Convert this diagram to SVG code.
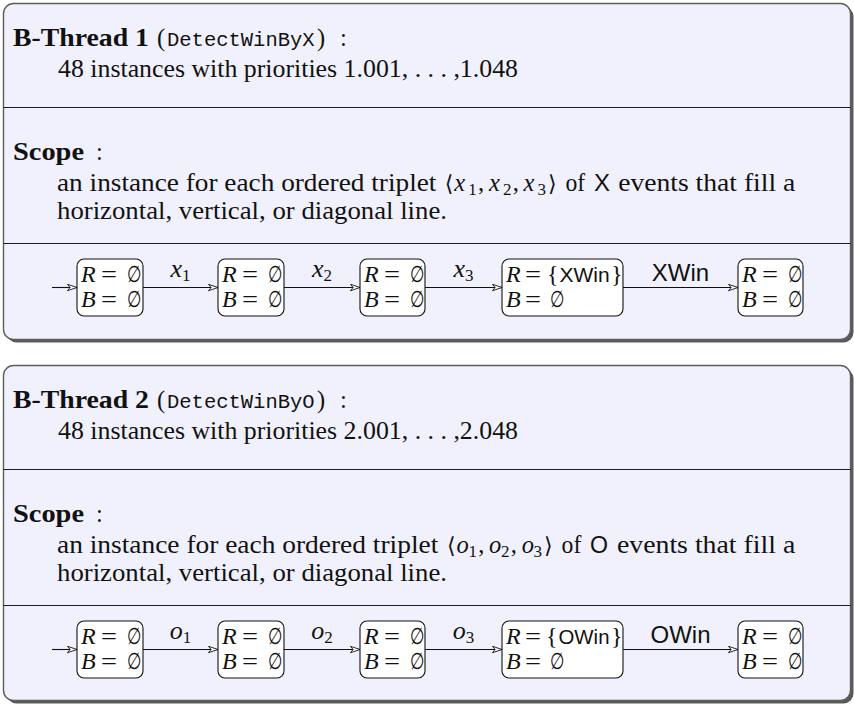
<svg xmlns="http://www.w3.org/2000/svg" width="854" height="705" viewBox="0 0 854 705">
  <defs>
    <marker id="arr" viewBox="0 0 11 8" refX="10.5" refY="4" markerWidth="11" markerHeight="8" markerUnits="userSpaceOnUse" orient="auto">
      <path d="M1,0.8 L10.5,4 L1,7.2 L3.6,4 Z" fill="#fff" stroke="#111" stroke-width="0.9"/>
    </marker>
    <style>
      .shadow { fill:#5a5a5a; }
      .panel { fill:#F1F1FD; stroke:#5e5e5e; stroke-width:1.4; }
      .sep { stroke:#1c1c1c; stroke-width:1.2; }
      .rm { font-family:"Liberation Serif","Times New Roman","DejaVu Serif",serif; font-size:24.5px; fill:#111; }
      .bf { font-weight:bold; }
      .tt { font-family:"Liberation Mono","DejaVu Sans Mono",monospace; font-size:20.5px; fill:#111; }
      .sf { font-family:"Liberation Sans","DejaVu Sans",sans-serif; fill:#111; }
      .it { font-style:italic; }
      .sub { font-size:17px; font-style:normal; }
      .ang { font-family:"DejaVu Sans",sans-serif; font-size:22px; fill:#111; }
      .m { font-family:"Liberation Serif","Times New Roman","DejaVu Serif",serif; font-size:24px; fill:#111; }
      .es { font-family:"DejaVu Sans",sans-serif; font-size:23px; fill:#111; }
      .node rect { fill:#fff; stroke:#111; stroke-width:1.1; }
      .edge { stroke:#111; stroke-width:1.1; fill:none; marker-end:url(#arr); }
      .lbl { text-anchor:middle; }
      .mx { font-size:26px; }
    </style>
  </defs>

  <!-- ============ B-Thread 1 ============ -->
  <g id="bthread1">
    <rect class="shadow" x="6.5" y="6.5" width="847" height="336" rx="10"/>
    <rect class="panel" x="3.5" y="3.5" width="847" height="336" rx="10"/>
    <line class="sep" x1="3.5" y1="107.5" x2="850.5" y2="107.5"/>
    <line class="sep" x1="3.5" y1="243.5" x2="850.5" y2="243.5"/>

    <text class="rm bf" x="13" y="46" textLength="136" lengthAdjust="spacingAndGlyphs">B-Thread 1</text>
    <text class="rm" x="157" y="46">(</text>
    <text class="tt" x="167" y="46">DetectWinByX</text>
    <text class="rm" x="317" y="46">)</text>
    <text class="rm" x="340" y="46">:</text>
    <text class="rm" x="58" y="77" textLength="460" lengthAdjust="spacingAndGlyphs">48 instances with priorities 1.001, . . . ,1.048</text>

    <text class="rm bf" x="13" y="160" textLength="71" lengthAdjust="spacingAndGlyphs">Scope</text>
    <text class="rm" x="96" y="160">:</text>
    <text class="rm" x="57" y="191" textLength="379.4" lengthAdjust="spacingAndGlyphs">an instance for each ordered triplet</text>
    <text class="ang" x="444.8" y="191">⟨</text>
    <text class="rm"><tspan class="it" x="454.3" y="191">x</tspan><tspan class="sub" x="468.3" y="195">1</tspan><tspan x="478" y="191">,</tspan><tspan class="it" x="488.9" y="191">x</tspan><tspan class="sub" x="502.9" y="195">2</tspan><tspan x="512.7" y="191">,</tspan><tspan class="it" x="523.6" y="191">x</tspan><tspan class="sub" x="537.6" y="195">3</tspan></text>
    <text class="ang" x="548" y="191">⟩</text>
    <text class="rm" x="565.4" y="191" textLength="19.7" lengthAdjust="spacingAndGlyphs">of</text>
    <text class="sf" x="594" y="191" font-size="24" textLength="16" lengthAdjust="spacingAndGlyphs">X</text>
    <text class="rm" x="618.2" y="191" textLength="177.1" lengthAdjust="spacingAndGlyphs">events that fill a</text>
    <text class="rm" x="57" y="219" textLength="390" lengthAdjust="spacingAndGlyphs">horizontal, vertical, or diagonal line.</text>
  </g>

  <g id="t1-n1" class="node">
    <rect x="77" y="259" width="66" height="57" rx="7"/>
    <text class="m it" x="81" y="282">R</text>
    <text class="m" x="101" y="282" textLength="16" lengthAdjust="spacingAndGlyphs">=</text>
    <text class="es" transform="translate(127,282) scale(0.72,1)">∅</text>
    <text class="m it" x="81" y="307">B</text>
    <text class="m" x="101" y="307" textLength="16" lengthAdjust="spacingAndGlyphs">=</text>
    <text class="es" transform="translate(127,307) scale(0.72,1)">∅</text>
  </g>
  <g id="t1-n2" class="node">
    <rect x="218" y="259" width="66" height="57" rx="7"/>
    <text class="m it" x="222" y="282">R</text>
    <text class="m" x="242" y="282" textLength="16" lengthAdjust="spacingAndGlyphs">=</text>
    <text class="es" transform="translate(268,282) scale(0.72,1)">∅</text>
    <text class="m it" x="222" y="307">B</text>
    <text class="m" x="242" y="307" textLength="16" lengthAdjust="spacingAndGlyphs">=</text>
    <text class="es" transform="translate(268,307) scale(0.72,1)">∅</text>
  </g>
  <g id="t1-n3" class="node">
    <rect x="360" y="259" width="65" height="57" rx="7"/>
    <text class="m it" x="364" y="282">R</text>
    <text class="m" x="384" y="282" textLength="16" lengthAdjust="spacingAndGlyphs">=</text>
    <text class="es" transform="translate(410,282) scale(0.72,1)">∅</text>
    <text class="m it" x="364" y="307">B</text>
    <text class="m" x="384" y="307" textLength="16" lengthAdjust="spacingAndGlyphs">=</text>
    <text class="es" transform="translate(410,307) scale(0.72,1)">∅</text>
  </g>
  <g id="t1-n4" class="node">
    <rect x="502" y="259" width="121" height="57" rx="7"/>
    <text class="m it" x="506" y="282">R</text>
    <text class="m" x="525" y="282" textLength="16" lengthAdjust="spacingAndGlyphs">=</text>
    <text class="m" x="547" y="282">{</text>
    <text class="sf" x="559.5" y="282" font-size="21">XWin</text>
    <text class="m" x="611" y="282">}</text>
    <text class="m it" x="506" y="307">B</text>
    <text class="m" x="525" y="307" textLength="16" lengthAdjust="spacingAndGlyphs">=</text>
    <text class="es" transform="translate(550,307) scale(0.72,1)">∅</text>
  </g>
  <g id="t1-n5" class="node">
    <rect x="738" y="259" width="65" height="57" rx="7"/>
    <text class="m it" x="742" y="282">R</text>
    <text class="m" x="762" y="282" textLength="16" lengthAdjust="spacingAndGlyphs">=</text>
    <text class="es" transform="translate(788,282) scale(0.72,1)">∅</text>
    <text class="m it" x="742" y="307">B</text>
    <text class="m" x="762" y="307" textLength="16" lengthAdjust="spacingAndGlyphs">=</text>
    <text class="es" transform="translate(788,307) scale(0.72,1)">∅</text>
  </g>

  <g id="t1-edges">
    <line class="edge" x1="52" y1="287.5" x2="77" y2="287.5"/>
    <line class="edge" x1="143" y1="287.5" x2="218" y2="287.5"/>
    <line class="edge" x1="284" y1="287.5" x2="360" y2="287.5"/>
    <line class="edge" x1="425" y1="287.5" x2="502" y2="287.5"/>
    <line class="edge" x1="623" y1="287.5" x2="738" y2="287.5"/>
    <text class="rm lbl" x="180.5" y="277"><tspan class="it mx">x</tspan><tspan class="sub" dy="4">1</tspan></text>
    <text class="rm lbl" x="322" y="277"><tspan class="it mx">x</tspan><tspan class="sub" dy="4">2</tspan></text>
    <text class="rm lbl" x="463.5" y="277"><tspan class="it mx">x</tspan><tspan class="sub" dy="4">3</tspan></text>
    <text class="sf lbl" x="680.5" y="281" font-size="24">XWin</text>
  </g>

  <!-- ============ B-Thread 2 ============ -->
  <g id="bthread2">
    <rect class="shadow" x="6.5" y="368.5" width="847" height="335" rx="10"/>
    <rect class="panel" x="3.5" y="365.5" width="847" height="335" rx="10"/>
    <line class="sep" x1="3.5" y1="469.5" x2="850.5" y2="469.5"/>
    <line class="sep" x1="3.5" y1="605.5" x2="850.5" y2="605.5"/>

    <text class="rm bf" x="13" y="408" textLength="136" lengthAdjust="spacingAndGlyphs">B-Thread 2</text>
    <text class="rm" x="157" y="408">(</text>
    <text class="tt" x="167" y="408">DetectWinByO</text>
    <text class="rm" x="317" y="408">)</text>
    <text class="rm" x="340" y="408">:</text>
    <text class="rm" x="58" y="439" textLength="460" lengthAdjust="spacingAndGlyphs">48 instances with priorities 2.001, . . . ,2.048</text>

    <text class="rm bf" x="13" y="522" textLength="71" lengthAdjust="spacingAndGlyphs">Scope</text>
    <text class="rm" x="96" y="522">:</text>
    <text class="rm" x="57" y="553" textLength="381.3" lengthAdjust="spacingAndGlyphs">an instance for each ordered triplet</text>
    <text class="ang" x="447.1" y="553">⟨</text>
    <text class="rm"><tspan class="it" x="456.6" y="553">o</tspan><tspan class="sub" x="468.5" y="557">1</tspan><tspan x="478.2" y="553">,</tspan><tspan class="it" x="489.1" y="553">o</tspan><tspan class="sub" x="501" y="557">2</tspan><tspan x="510.8" y="553">,</tspan><tspan class="it" x="521.7" y="553">o</tspan><tspan class="sub" x="533.6" y="557">3</tspan></text>
    <text class="ang" x="544" y="553">⟩</text>
    <text class="rm" x="561.6" y="553" textLength="19.7" lengthAdjust="spacingAndGlyphs">of</text>
    <text class="sf" x="590.1" y="553" font-size="24" textLength="18" lengthAdjust="spacingAndGlyphs">O</text>
    <text class="rm" x="616.9" y="553" textLength="178.4" lengthAdjust="spacingAndGlyphs">events that fill a</text>
    <text class="rm" x="57" y="581" textLength="390" lengthAdjust="spacingAndGlyphs">horizontal, vertical, or diagonal line.</text>
  </g>

  <g id="t2-n1" class="node">
    <rect x="77" y="621" width="66" height="57" rx="7"/>
    <text class="m it" x="81" y="644">R</text>
    <text class="m" x="101" y="644" textLength="16" lengthAdjust="spacingAndGlyphs">=</text>
    <text class="es" transform="translate(127,644) scale(0.72,1)">∅</text>
    <text class="m it" x="81" y="669">B</text>
    <text class="m" x="101" y="669" textLength="16" lengthAdjust="spacingAndGlyphs">=</text>
    <text class="es" transform="translate(127,669) scale(0.72,1)">∅</text>
  </g>
  <g id="t2-n2" class="node">
    <rect x="218" y="621" width="66" height="57" rx="7"/>
    <text class="m it" x="222" y="644">R</text>
    <text class="m" x="242" y="644" textLength="16" lengthAdjust="spacingAndGlyphs">=</text>
    <text class="es" transform="translate(268,644) scale(0.72,1)">∅</text>
    <text class="m it" x="222" y="669">B</text>
    <text class="m" x="242" y="669" textLength="16" lengthAdjust="spacingAndGlyphs">=</text>
    <text class="es" transform="translate(268,669) scale(0.72,1)">∅</text>
  </g>
  <g id="t2-n3" class="node">
    <rect x="360" y="621" width="65" height="57" rx="7"/>
    <text class="m it" x="364" y="644">R</text>
    <text class="m" x="384" y="644" textLength="16" lengthAdjust="spacingAndGlyphs">=</text>
    <text class="es" transform="translate(410,644) scale(0.72,1)">∅</text>
    <text class="m it" x="364" y="669">B</text>
    <text class="m" x="384" y="669" textLength="16" lengthAdjust="spacingAndGlyphs">=</text>
    <text class="es" transform="translate(410,669) scale(0.72,1)">∅</text>
  </g>
  <g id="t2-n4" class="node">
    <rect x="502" y="621" width="121" height="57" rx="7"/>
    <text class="m it" x="506" y="644">R</text>
    <text class="m" x="525" y="644" textLength="16" lengthAdjust="spacingAndGlyphs">=</text>
    <text class="m" x="546" y="644">{</text>
    <text class="sf" x="558.5" y="644" font-size="20.4">OWin</text>
    <text class="m" x="611" y="644">}</text>
    <text class="m it" x="506" y="669">B</text>
    <text class="m" x="525" y="669" textLength="16" lengthAdjust="spacingAndGlyphs">=</text>
    <text class="es" transform="translate(550,669) scale(0.72,1)">∅</text>
  </g>
  <g id="t2-n5" class="node">
    <rect x="738" y="621" width="65" height="57" rx="7"/>
    <text class="m it" x="742" y="644">R</text>
    <text class="m" x="762" y="644" textLength="16" lengthAdjust="spacingAndGlyphs">=</text>
    <text class="es" transform="translate(788,644) scale(0.72,1)">∅</text>
    <text class="m it" x="742" y="669">B</text>
    <text class="m" x="762" y="669" textLength="16" lengthAdjust="spacingAndGlyphs">=</text>
    <text class="es" transform="translate(788,669) scale(0.72,1)">∅</text>
  </g>

  <g id="t2-edges">
    <line class="edge" x1="52" y1="649.5" x2="77" y2="649.5"/>
    <line class="edge" x1="143" y1="649.5" x2="218" y2="649.5"/>
    <line class="edge" x1="284" y1="649.5" x2="360" y2="649.5"/>
    <line class="edge" x1="425" y1="649.5" x2="502" y2="649.5"/>
    <line class="edge" x1="623" y1="649.5" x2="738" y2="649.5"/>
    <text class="rm lbl" x="180.5" y="639"><tspan class="it mx">o</tspan><tspan class="sub" dy="4">1</tspan></text>
    <text class="rm lbl" x="322" y="639"><tspan class="it mx">o</tspan><tspan class="sub" dy="4">2</tspan></text>
    <text class="rm lbl" x="463.5" y="639"><tspan class="it mx">o</tspan><tspan class="sub" dy="4">3</tspan></text>
    <text class="sf lbl" x="680.5" y="643" font-size="24">OWin</text>
  </g>
</svg>
